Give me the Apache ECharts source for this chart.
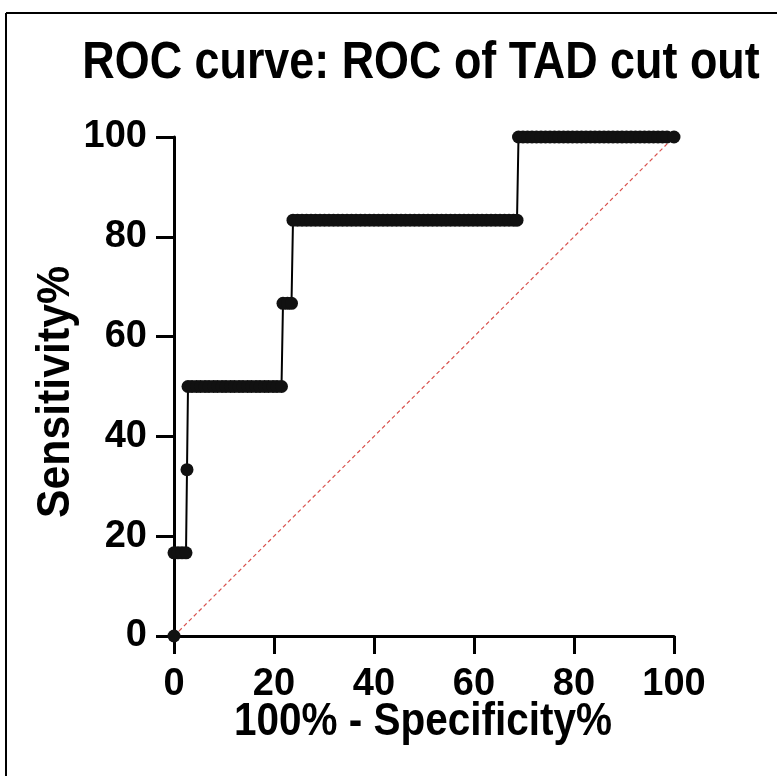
<!DOCTYPE html>
<html>
<head>
<meta charset="utf-8">
<script src="https://cdn.jsdelivr.net/npm/echarts@6/dist/echarts.min.js"></script>
<style>
html,body{margin:0;padding:0;background:#fff;}
#c{width:777px;height:776px;}
</style>
</head>
<body>
<div id="c"></div>
<script>
// Sensitivity levels (6 positives) and the 100%-Specificity% values of each plotted point
const sens0 = 0, sens17 = 16.67, sens33 = 33.33, sens50 = 50, sens67 = 66.67, sens83 = 83.33, sens100 = 100;
const fprAt0 = [0];
const fprAt17 = [0, 0.8, 1.6, 2.4];
const fprAt33 = [2.6];
const fprAt50 = [2.8, 3.6, 4.5, 5.3, 6.2, 7.0, 7.9, 8.7, 9.6, 10.4, 11.3, 12.1, 13.0, 13.8, 14.7, 15.5, 16.4, 17.2, 18.1, 18.9, 19.8, 20.6, 21.5];
const fprAt67 = [21.8, 22.7, 23.5];
const fprAt83 = [23.8, 24.7, 25.6, 26.5, 27.4, 28.3, 29.2, 30.1, 31.0, 31.9, 32.8, 33.7, 34.6, 35.5, 36.4, 37.3, 38.2, 39.1, 40.0, 40.9, 41.8, 42.7, 43.6, 44.5, 45.4, 46.3, 47.2, 48.1, 49.0, 49.9, 50.8, 51.7, 52.6, 53.5, 54.4, 55.3, 56.2, 57.1, 58.0, 58.9, 59.8, 60.7, 61.6, 62.5, 63.4, 64.3, 65.2, 66.1, 67.0, 67.9, 68.6];
const fprAt100 = [68.9, 69.8, 70.7, 71.6, 72.5, 73.4, 74.3, 75.2, 76.1, 77.0, 77.9, 78.8, 79.7, 80.6, 81.5, 82.4, 83.3, 84.2, 85.1, 86.0, 86.9, 87.8, 88.7, 89.6, 90.5, 91.4, 92.3, 93.2, 94.1, 95.0, 95.9, 96.8, 97.7, 98.6, 100];
const diagonal = [[0, 0], [100, 100]];
const xTicks = [0, 20, 40, 60, 80, 100];
const yTicks = [0, 20, 40, 60, 80, 100];
const titleText = 'ROC curve: ROC of TAD cut out';
const xName = '100% - Specificity%';
const yName = 'Sensitivity%';

const runs = [
  [fprAt0, sens0], [fprAt17, sens17], [fprAt33, sens33], [fprAt50, sens50],
  [fprAt67, sens67], [fprAt83, sens83], [fprAt100, sens100]
];
const roc = [];
runs.forEach(([xs, s]) => xs.forEach(x => roc.push([x, s])));

const FONT = '"Liberation Sans", Arial, Helvetica, sans-serif';
function label(text, x, y, size, rot, squeeze) {
  return {
    type: 'text', x: x, y: y, rotation: rot || 0, scaleX: squeeze, silent: true,
    style: {text: text, x: 0, y: 0, align: 'center', verticalAlign: 'middle',
      font: 'bold ' + size + 'px ' + FONT, fill: '#000'}
  };
}
const chart = echarts.init(document.getElementById('c'), null, {renderer: 'canvas'});
chart.setOption({
  backgroundColor: '#fff',
  animation: false,
  grid: {left: 174, right: 103, top: 137, bottom: 140, containLabel: false, outerBoundsMode: 'none'},
  xAxis: {
    type: 'value', min: 0, max: 100, interval: 20,
    axisLine: {show: true, onZero: false, lineStyle: {color: '#000', width: 3}},
    axisTick: {show: true, length: 18, lineStyle: {color: '#000', width: 3}},
    axisLabel: {fontFamily: FONT, fontWeight: 'bold', fontSize: 38, color: '#000', margin: 30,
      formatter: v => xTicks.includes(v) ? String(v) : ''},
    splitLine: {show: false}
  },
  yAxis: {
    type: 'value', min: 0, max: 100, interval: 20,
    axisLine: {show: true, onZero: false, lineStyle: {color: '#000', width: 3}},
    axisTick: {show: true, length: 18, lineStyle: {color: '#000', width: 3}},
    axisLabel: {fontFamily: FONT, fontWeight: 'bold', fontSize: 38, color: '#000', margin: 27,
      formatter: v => yTicks.includes(v) ? String(v) : ''},
    splitLine: {show: false}
  },
  graphic: [
    {type: 'line', shape: {x1: 6, y1: 13, x2: 6, y2: 776}, style: {stroke: '#000', lineWidth: 2}, silent: true},
    {type: 'line', shape: {x1: 6, y1: 13, x2: 777, y2: 13}, style: {stroke: '#000', lineWidth: 2}, silent: true},
    label(titleText, 421, 64, 51, 0, 0.88),
    label(xName, 423, 722, 46, 0, 0.88),
    label(yName, 56, 392, 46, Math.PI / 2, 0.93)
  ],
  series: [
    {
      type: 'line', data: diagonal, symbol: 'none', z: 1,
      itemStyle: {color: '#d9534f'},
      lineStyle: {color: '#d9534f', width: 1.2, type: [4, 3]}
    },
    {
      type: 'line', data: roc, symbol: 'circle', symbolSize: 13, showSymbol: true, z: 3,
      lineStyle: {color: '#000', width: 2},
      itemStyle: {color: '#111', borderWidth: 0}
    }
  ]
});
</script>
</body>
</html>
